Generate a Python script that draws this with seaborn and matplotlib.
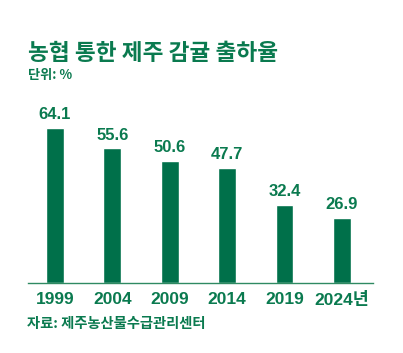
import matplotlib
matplotlib.use("Agg")
import matplotlib.pyplot as plt
import seaborn as sns
import pandas as pd

years = ["1999", "2004", "2009", "2014", "2019", "2024년"]
rates = [64.1, 55.6, 50.6, 47.7, 32.4, 26.9]
value_labels = ["64.1", "55.6", "50.6", "47.7", "32.4", "26.9"]

title = "농협 통한 제주 감귤 출하율"
unit = "단위: %"
source = "자료: 제주농산물수급관리센터"

sns.set_theme(style="white")
plt.rcParams['font.family'] = ['Noto Sans CJK KR', 'DejaVu Sans']
NUMFONT = ['Liberation Sans', 'Noto Sans CJK KR']

BAR = "#00704a"
TXT = "#0a7a4f"

W, H = 403, 353
fig = plt.figure(figsize=(W / 100, H / 100), dpi=100)
ax = fig.add_axes([28 / W, (H - 283) / H, 345 / W, 181.5 / H])

df = pd.DataFrame({"year": years, "rate": rates})
sns.barplot(data=df, x="year", y="rate", color=BAR, saturation=1, width=0.31, ax=ax)

ax.set_xlim(-0.47, 5.54)
ax.set_ylim(0, 75)
ax.set_xlabel("")
ax.set_ylabel("")
ax.set_yticks([])
for s in ["top", "right", "left"]:
    ax.spines[s].set_visible(False)
ax.spines["bottom"].set_color("#2f8a62")
ax.spines["bottom"].set_linewidth(1.0)
ax.tick_params(axis="x", length=0, pad=6.5, labelcolor=TXT)
for lbl in ax.get_xticklabels():
    lbl.set_fontweight("bold")
    lbl.set_family(NUMFONT)
    lbl.set_fontsize(12.5)

ax.bar_label(ax.containers[0], labels=value_labels, padding=4,
             fontsize=12, fontweight="bold", color=TXT, family=NUMFONT)

fig.text(28 / W, 1 - 53 / H, title, fontsize=16.3, fontweight="black",
         color=TXT, ha="left", va="center")
fig.text(28 / W, 1 - 75 / H, unit, fontsize=9.5, fontweight="bold",
         color=TXT, ha="left", va="center")
fig.text(27 / W, 1 - 324 / H, source, fontsize=10.3, fontweight="bold",
         color=TXT, ha="left", va="center")

fig.savefig("out.png", dpi=100, facecolor="white")
